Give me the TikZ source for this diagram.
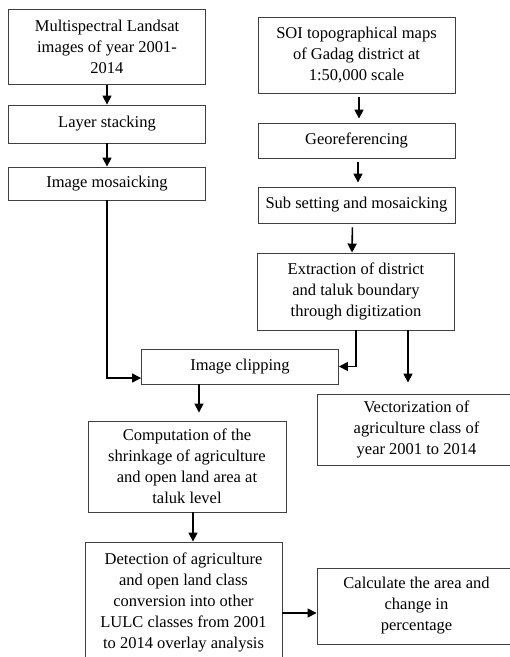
\documentclass[tikz,border=0pt]{standalone}
\usepackage{fontspec}
\setmainfont{Liberation Serif}
\usetikzlibrary{arrows.meta}

\begin{document}
\begin{tikzpicture}[x = 1pt, y = -1pt]
		\tikzstyle{every node} = [font = \fontsize{16.5}{21}\selectfont]
		\tikzstyle{box} = [draw = darkgray, line width = 0.9pt, align = center, inner sep = 0pt, minimum width = 197pt]
		\tikzstyle{pfeil} = [draw = black, line width = 1.6pt, -{Triangle[length = 9pt, width = 9pt]}]

\clip (0,0) rectangle (510,657);

% linke Spalte
\node[box, minimum height = 75pt] (landsat) at (107,47) {Multispectral Landsat\\images of year 2001-\\2014};
\node[box, minimum height = 38pt] (stack) at (107,124) {Layer stacking};
\node[box, minimum height = 33pt] (mosaic) at (107,183.5) {Image mosaicking};

% rechte Spalte
\node[box, minimum height = 76pt] (soi) at (356.5,55) {SOI topographical maps\\of Gadag district at\\1:50,000 scale};
\node[box, minimum height = 35pt] (georef) at (356.5,140.5) {Georeferencing};
\node[box, minimum height = 36pt] (subset) at (356.5,205) {Sub setting and mosaicking};
\node[box, minimum height = 77pt] (extract) at (356,291.5) {Extraction of district\\and taluk boundary\\through digitization};

% Mitte
\node[box, minimum height = 35pt] (clipping) at (240,366.5) {Image clipping};
\node[box, minimum height = 71pt, minimum width = 199pt] (vector) at (416.5,429.5) {Vectorization of\\agriculture class of\\year 2001 to 2014};
\node[box, minimum height = 91pt, minimum width = 198pt] (shrink) at (187,466.5) {Computation of the\\shrinkage of agriculture\\and open land area at\\taluk level};
\node[box, minimum height = 120pt] (detect) at (183.5,602) {Detection of agriculture\\and open land class\\conversion into other\\LULC classes from 2001\\to 2014 overlay analysis};
\node[box, minimum height = 76pt, minimum width = 199pt] (calc) at (416.5,606) {Calculate the area and\\change in\\percentage};

% Hilfspunkte
\coordinate (extfuss) at (408,330);
\coordinate (clipfuss) at (199,384);
\coordinate (shrinkfuss) at (193,512);

% Pfeile
\draw[pfeil] (landsat) -- (stack);
\draw[pfeil] (stack) -- (mosaic);
\draw[pfeil] (mosaic.south) |- ([yshift = -11.5pt]clipping.west);
\draw[pfeil, shorten < = 4pt, shorten > = 4pt] ([xshift = 2.5pt]soi.south) -- ([xshift = 2.5pt]georef.north);
\draw[pfeil, shorten < = 4pt, shorten > = 4pt] ([xshift = 1.5pt]georef.south) -- ([xshift = 1.5pt]subset.north);
\draw[pfeil, shorten < = 4pt] ([xshift = -4pt]subset.south) -- ([xshift = -4pt]extract.north);
\draw[pfeil] (extract.south) |- (clipping.east);
\draw[pfeil, shorten > = 11pt] (extfuss) -- (extfuss |- vector.north);
\draw[pfeil, shorten > = 8pt] (clipfuss) -- (clipfuss |- shrink.north);
\draw[pfeil] (shrinkfuss) -- (shrinkfuss |- detect.north);
\draw[pfeil] ([yshift = -11pt]detect.east) -- ([yshift = -11pt]detect.east -| calc.west);

\end{tikzpicture}
\end{document}
